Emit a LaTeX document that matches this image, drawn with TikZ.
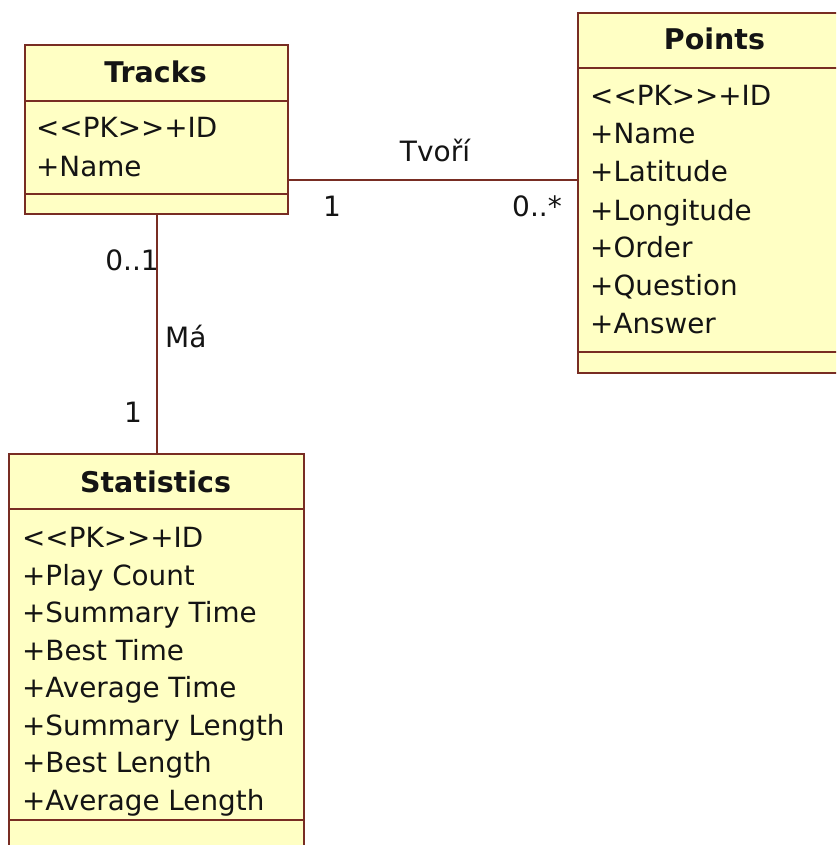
\documentclass[tikz,border=0pt]{standalone}
\usepackage{fontspec}
\setmainfont{DejaVu Sans}
\definecolor{umlfill}{RGB}{255,255,196}
\definecolor{umlline}{RGB}{120,45,35}
\definecolor{umltext}{RGB}{20,20,20}
\newcommand{\pkmark}{<\kern0pt<PK>\kern0pt>}
\begin{document}
\begin{tikzpicture}[x=1pt,y=-1pt,
  classbox/.style={draw=umlline,fill=umlfill,line width=2pt,rectangle,inner sep=0pt,anchor=north west},
  sepline/.style={draw=umlline,line width=2pt},
  assoc/.style={draw=umlline,line width=2pt},
  title/.style={font=\fontsize{28.5}{34}\selectfont\bfseries,text=umltext,anchor=base,inner sep=0pt},
  attr/.style={font=\fontsize{27.8}{34}\selectfont,text=umltext,anchor=base west,inner sep=0pt},
  lbl/.style={font=\fontsize{28}{34}\selectfont,text=umltext,anchor=base,inner sep=0pt}]
\useasboundingbox (0,0) rectangle (836,845);
\clip (0,0) rectangle (836,845);
\fill[white] (0,0) rectangle (836,845);
% Tracks
\node[classbox,minimum width=263pt,minimum height=169pt] (tracks) at (24,44) {};
\draw[sepline] (24,101) -- (287,101);
\draw[sepline] (24,194) -- (287,194);
\node[title] (tt) at (155.5,83) {Tracks};
\node[attr] (t1) at (36,138) {\pkmark+ID};
\node[attr] (t2) at (36,176) {+Name};
% Points
\node[classbox,minimum width=275pt,minimum height=360pt] (points) at (577,12) {};
\draw[sepline] (577,68) -- (860,68);
\draw[sepline] (577,352) -- (860,352);
\node[title] (pt) at (714.5,50) {Points};
\node[attr] (p1) at (590,106) {\pkmark+ID};
\node[attr] (p2) at (590,144) {+Name};
\node[attr] (p3) at (590,182) {+Latitude};
\node[attr] (p4) at (590,220) {+Longitude};
\node[attr] (p5) at (590,257) {+Order};
\node[attr] (p6) at (590,295) {+Question};
\node[attr] (p7) at (590,333) {+Answer};
% Statistics
\node[classbox,minimum width=295pt,minimum height=420pt] (stats) at (8,453) {};
\draw[sepline] (8,509) -- (303,509);
\draw[sepline] (8,820) -- (303,820);
\node[title] (st) at (155.5,492) {Statistics};
\node[attr] (s1) at (22,547) {\pkmark+ID};
\node[attr] (s2) at (22,585) {+Play Count};
\node[attr] (s3) at (22,622) {+Summary Time};
\node[attr] (s4) at (22,660) {+Best Time};
\node[attr] (s5) at (22,697) {+Average Time};
\node[attr] (s6) at (22,735) {+Summary Length};
\node[attr] (s7) at (22,772) {+Best Length};
\node[attr] (s8) at (22,810) {+Average Length};
% connectors
\coordinate (tvy) at (0,180);
\coordinate (max) at (157,0);
\draw[assoc] (tracks.east |- tvy) -- (points.west |- tvy);
\draw[assoc] (tracks.south -| max) -- (stats.north -| max);
% labels
\node[lbl] (ltv) at (435,162) {Tvoří};
\node[lbl] (l1a) at (332,216) {1};
\node[lbl,anchor=base east] (l0s) at (562,216) {0..*};
\node[lbl,anchor=base east] (l01) at (159,270) {0..1};
\node[lbl,anchor=base west] (lma) at (165,347) {Má};
\node[lbl] (l1b) at (133,422) {1};
\end{tikzpicture}
\end{document}
